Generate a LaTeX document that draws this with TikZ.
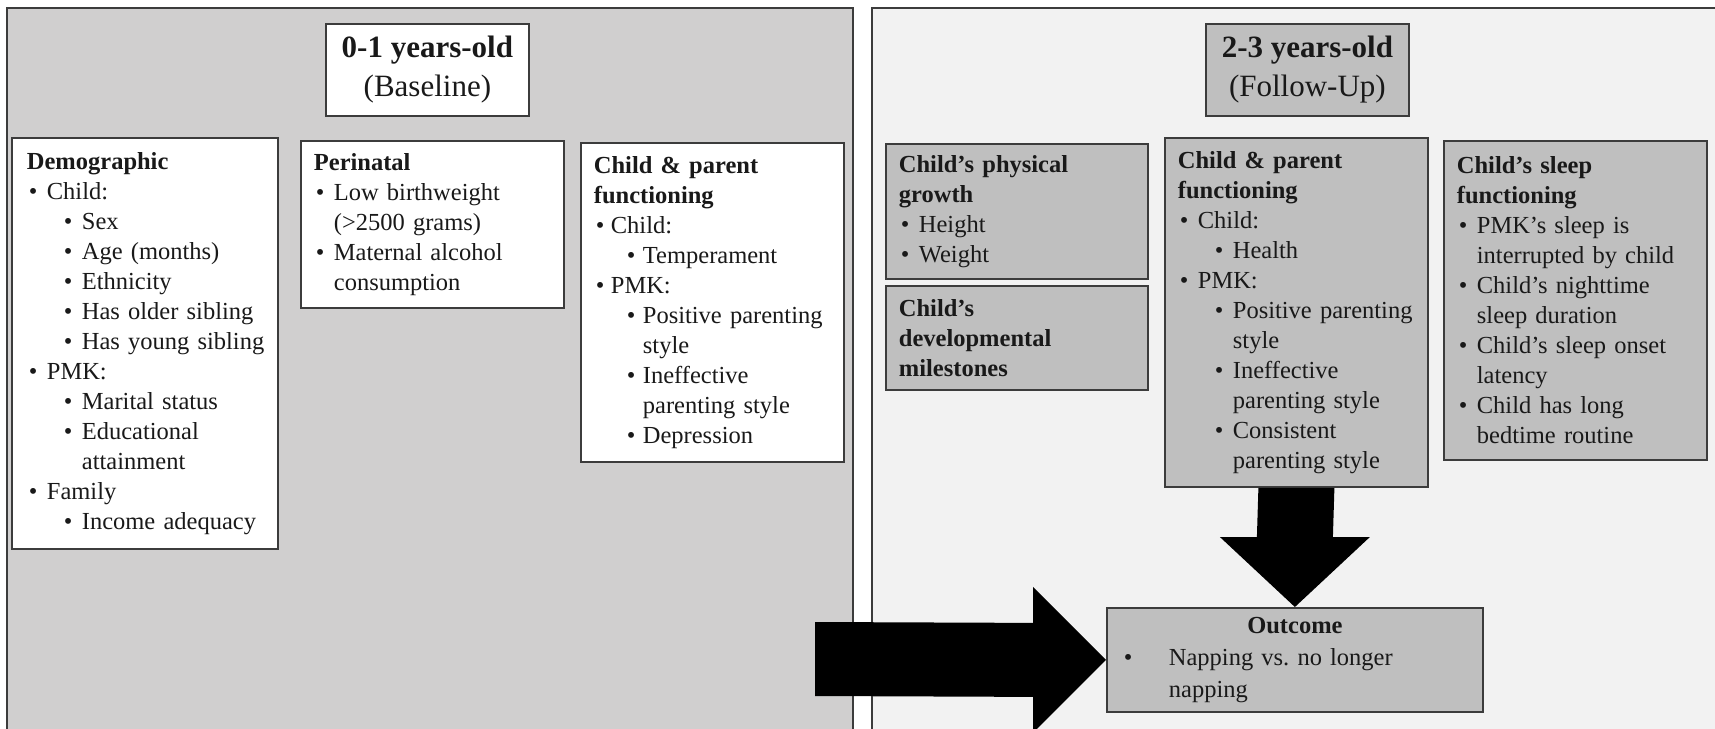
\documentclass[tikz,border=0pt]{standalone}
\usepackage{fontspec}
\setmainfont{Liberation Serif}
\usetikzlibrary{calc}
\hyphenpenalty=10000
\exhyphenpenalty=10000
\frenchspacing
\definecolor{panelL}{RGB}{208,207,207}
\definecolor{panelR}{RGB}{242,242,242}
\definecolor{boxgray}{RGB}{191,191,191}
\definecolor{edge}{RGB}{60,60,60}
\definecolor{ink}{RGB}{25,25,25}
\newlength\ia \newlength\ib \newlength\bb
\setlength\ia{20pt}\setlength\ib{55pt}\setlength\bb{37pt}
\newcommand\Ba{\makebox[\ia][l]{\hspace{2pt}\textbullet}}
\newcommand\Bb{\makebox[\ib][l]{\hspace{\bb}\textbullet}}
\newcommand\Ca{\hspace*{\ia}}
\newcommand\Cb{\hspace*{\ib}}
\begin{document}
\begin{tikzpicture}[x=1pt,y=-1pt,
  panelline/.style={draw=edge, line width=2.2pt},
  box/.style={draw=edge, line width=1.8pt, anchor=north west, align=left,
    inner xsep=13pt, inner ysep=0pt, text=ink,
    font=\fontsize{24.5pt}{30pt}\selectfont},
  whitebox/.style={box, fill=white},
  graybox/.style={box, fill=boxgray},
  hdr/.style={draw=edge, line width=1.8pt, anchor=north west, align=center,
    inner sep=0pt, text=ink, minimum width=203pt, minimum height=92pt,
    font=\fontsize{31pt}{39pt}\selectfont},
  bigarrow/.style={fill=black}
]
\useasboundingbox (0,0) rectangle (1715,728);
\clip (0,0) rectangle (1715,728);
\fill[white] (0,0) rectangle (1715,728);
% panels
\fill[panelL] (7,8) rectangle (853,740);
\draw[panelline] (7,740) -- (7,8) -- (853,8) -- (853,740);
\fill[panelR] (872,8) rectangle (1730,740);
\draw[panelline] (872,740) -- (872,8) -- (1730,8);

% headers
\node[hdr, fill=white] (hdrL) at (325,23) {\textbf{0-1 years-old}\\(Baseline)};
\node[hdr, fill=boxgray] (hdrR) at (1205,23) {\textbf{2-3 years-old}\\(Follow-Up)};

% left panel boxes
\node[whitebox, minimum width=266pt, minimum height=411pt, text width=236pt, inner xsep=15pt] (demo) at (11,137) {%
\textbf{Demographic}\\
\Ba Child:\\
\Bb Sex\\
\Bb Age (months)\\
\Bb Ethnicity\\
\Bb Has~older~sibling\\
\Bb Has~young~sibling\\
\Ba PMK:\\
\Bb Marital status\\
\Bb Educational\\
\Cb attainment\\
\Ba Family\\
\Bb Income~adequacy};

\node[whitebox, minimum width=263pt, minimum height=167pt, text width=237pt] (peri) at (300,140) {%
\textbf{Perinatal}\\
\Ba Low birthweight\\
\Ca (>2500 grams)\\
\Ba Maternal alcohol\\
\Ca consumption};

\node[whitebox, minimum width=263pt, minimum height=319pt, text width=237pt] (cpL) at (580,142) {%
\setlength\ia{17pt}\setlength\bb{33pt}\setlength\ib{49pt}%
\textbf{Child \& parent}\\
\textbf{functioning}\\
\Ba Child:\\
\Bb Temperament\\
\Ba PMK:\\
\Bb Positive~parenting\\
\Cb style\\
\Bb Ineffective\\
\Cb parenting~style\\
\Bb Depression};

% right panel boxes
\node[graybox, minimum width=262pt, minimum height=135pt, text width=236pt] (grow) at (885,143) {%
\textbf{Child’s physical}\\
\textbf{growth}\\
\Ba Height\\
\Ba Weight};

\node[graybox, minimum width=262pt, minimum height=104pt, text width=236pt] (mile) at (885,285) {%
\textbf{Child’s}\\
\textbf{developmental}\\
\textbf{milestones}};

\node[graybox, minimum width=263pt, minimum height=349pt, text width=237pt] (cpR) at (1164,137) {%
\textbf{Child \& parent}\\
\textbf{functioning}\\
\Ba Child:\\
\Bb Health\\
\Ba PMK:\\
\Bb Positive~parenting\\
\Cb style\\
\Bb Ineffective\\
\Cb parenting~style\\
\Bb Consistent\\
\Cb parenting~style};

\node[graybox, minimum width=263pt, minimum height=319pt, text width=237pt] (sleep) at (1443,140) {%
\textbf{Child’s sleep}\\
\textbf{functioning}\\
\Ba PMK’s sleep is\\
\Ca interrupted~by~child\\
\Ba Child’s nighttime\\
\Ca sleep duration\\
\Ba Child’s~sleep~onset\\
\Ca latency\\
\Ba Child has long\\
\Ca bedtime routine};

\node[graybox, minimum width=376pt, minimum height=104pt, text width=350pt,
  font=\fontsize{24.5pt}{32pt}\selectfont] (outcome) at (1106,607) {%
\makebox[350pt]{\textbf{Outcome}}\\
\makebox[49pt][l]{\hspace{4pt}\textbullet}Napping vs.\ no longer\\
\hspace*{49pt}napping};

% arrows
\coordinate (tail) at (815,659);
\fill[bigarrow] ($(tail)+(0,-37)$) -- ($(outcome.west)+(-73,-37)$) -- ($(outcome.west)+(-73,-73)$)
  -- (outcome.west) -- ($(outcome.west)+(-73,73)$) -- ($(outcome.west)+(-73,37)$)
  -- ($(tail)+(0,37)$) -- cycle;
\fill[bigarrow] ($(cpR.south)+(-38,0)$) -- ($(cpR.south)+(38,0)$) -- ($(outcome.north)+(38,-70)$)
  -- ($(outcome.north)+(75,-70)$) -- (outcome.north) -- ($(outcome.north)+(-75,-70)$)
  -- ($(outcome.north)+(-38,-70)$) -- cycle;
\end{tikzpicture}
\end{document}
